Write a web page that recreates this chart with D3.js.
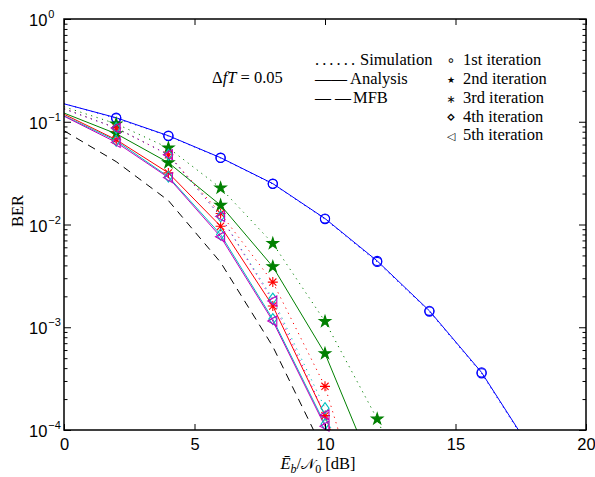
<!DOCTYPE html>
<html>
<head>
<meta charset="utf-8">
<script src="https://cdn.jsdelivr.net/npm/d3@7"></script>
<style>
body { margin: 0; background: #fff; }
</style>
</head>
<body>
<svg id="chart" width="595" height="477"></svg>
<script>

// BER values, x = Eb/N0 in dB
var snr = [0, 2, 4, 6, 8, 10, 12, 14, 16, 18];

var ana1 = [0.1495, 0.1094, 0.0731, 0.0447, 0.0250, 0.01143, 0.00442, 0.001446, 3.63e-4, 5.85e-5];
var sim1 = [0.150, 0.108, 0.0725, 0.0444, 0.0248, 0.01130, 0.00432, 0.00142, 3.56e-4, 5.7e-5];
var ana2 = [0.1215, 0.0765, 0.0400, 0.0154, 0.00389, 5.55e-4, 3.3e-5];
var sim2 = [0.140, 0.0955, 0.0556, 0.0227, 0.00654, 0.00114, 1.28e-4, 7.8e-6];
var ana3 = [0.1183, 0.0669, 0.0318, 0.00963, 0.00161, 1.38e-4, 6e-6];
var sim3 = [0.135, 0.0869, 0.0478, 0.0128, 0.00275, 2.66e-4, 5.6e-6];
var ana4 = [0.1144, 0.0654, 0.0292, 0.0080, 0.00120, 1.14e-4, 4e-6];
var sim4 = [0.134, 0.0870, 0.0478, 0.0120, 0.0019, 1.63e-4, 3e-6];
var ana5 = [0.1132, 0.0630, 0.0286, 0.0076, 0.00115, 1.09e-4, 3.8e-6];
var sim5 = [0.133, 0.0869, 0.0478, 0.0120, 0.0018, 1.40e-4, 3e-6];

var mfb = [0.0818, 0.0409, 0.0171, 0.00428, 6.5e-4, 5.9e-5];

var xTicks = [0, 5, 10, 15, 20];
var yMajor = [1e-4, 1e-3, 1e-2, 1e-1, 1];
var yExp = ['\u22124', '\u22123', '\u22122', '\u22121', '0'];

var iterNames = ['1st iteration', '2nd iteration', '3rd iteration', '4th iteration', '5th iteration'];
var iterGlyphs = ['\u2218', '\u2605', '\u2217', '\u22C4', '\u25C1'];

var width = 595, height = 477;
var plotLeft = 64, plotRight = 586, plotTop = 19, plotBottom = 430;

var x = d3.scaleLinear().domain([0, 20]).range([plotLeft, plotRight]);
var y = d3.scaleLog().domain([1e-4, 1]).range([plotBottom, plotTop]);

var svg = d3.select('#chart');
svg.append('rect').attr('width', width).attr('height', height).attr('fill', '#fff');

svg.append('defs').append('clipPath').attr('id', 'clip')
    .append('rect')
    .attr('x', plotLeft).attr('y', plotTop)
    .attr('width', plotRight - plotLeft).attr('height', plotBottom - plotTop);

var series = [
    {color: '#0000ff', marker: 'circle',   ana: ana1, sim: sim1},
    {color: '#008000', marker: 'star',     ana: ana2, sim: sim2},
    {color: '#ff0000', marker: 'asterisk', ana: ana3, sim: sim3},
    {color: '#00bfbf', marker: 'diamond',  ana: ana4, sim: sim4},
    {color: '#bf00bf', marker: 'triangle', ana: ana5, sim: sim5}
];

function markerPath(type) {
    if (type == 'circle') return d3.symbol(d3.symbolCircle, 66)();
    if (type == 'star') return d3.symbol(d3.symbolStar, 40)();
    if (type == 'asterisk') return 'M-5,0H5M0,-5V5M-3.6,-3.6L3.6,3.6M-3.6,3.6L3.6,-3.6';
    if (type == 'diamond') return 'M0,-5.5L4,0L0,5.5L-4,0Z';
    return 'M-5,0L4,-5L4,5Z';
}

var line = d3.line()
    .x(function(d, i) { return x(snr[i]); })
    .y(function(d) { return y(d); });

var plot = svg.append('g').attr('clip-path', 'url(#clip)');

// MFB bound
plot.append('path')
    .attr('d', line(mfb))
    .attr('fill', 'none')
    .attr('stroke', '#000')
    .attr('stroke-width', 1)
    .attr('stroke-dasharray', '8,6');

series.forEach(function(s) {
    plot.append('path')
        .attr('d', line(s.sim))
        .attr('fill', 'none')
        .attr('stroke', s.color)
        .attr('stroke-width', 1)
        .attr('stroke-dasharray', '1.2,4.5');

    plot.append('path')
        .attr('d', line(s.ana))
        .attr('fill', 'none')
        .attr('stroke', s.color)
        .attr('stroke-width', 1);

    [s.sim, s.ana].forEach(function(vals) {
        var pts = [];
        vals.forEach(function(v, i) {
            if (i > 0 && v >= 1e-4) pts.push([snr[i], v]);
        });
        svg.append('g').selectAll('path')
            .data(pts)
            .enter()
            .append('path')
            .attr('transform', function(d) { return 'translate(' + x(d[0]) + ',' + y(d[1]) + ')'; })
            .attr('d', markerPath(s.marker))
            .attr('fill', s.marker == 'star' ? s.color : 'none')
            .attr('stroke', s.color)
            .attr('stroke-width', 1.1);
    });
});

// axes, ticks pointing inward on all four sides
function styleAxis(g) {
    g.select('.domain').remove();
    g.selectAll('line').attr('stroke', '#000').attr('stroke-width', 1);
    g.selectAll('text').attr('font-family', 'Liberation Sans, Arial, sans-serif')
        .attr('font-size', 16.5).attr('fill', '#000');
}

svg.append('g').attr('transform', 'translate(0,' + plotBottom + ')')
    .call(d3.axisBottom(x).tickValues(xTicks).tickSizeInner(-6).tickSizeOuter(0).tickPadding(8))
    .call(styleAxis);
svg.append('g').attr('transform', 'translate(0,' + plotTop + ')')
    .call(d3.axisTop(x).tickValues(xTicks).tickSizeInner(-6).tickSizeOuter(0).tickFormat(''))
    .call(styleAxis);

var yMinor = y.ticks().filter(function(v) {
    return yMajor.every(function(m) { return Math.abs(m - v) > m * 1e-6; });
});

[[d3.axisLeft, plotLeft], [d3.axisRight, plotRight]].forEach(function(a) {
    svg.append('g').attr('transform', 'translate(' + a[1] + ',0)')
        .call(a[0](y).tickValues(yMajor).tickSizeInner(-7).tickSizeOuter(0).tickFormat(''))
        .call(styleAxis);
    svg.append('g').attr('transform', 'translate(' + a[1] + ',0)')
        .call(a[0](y).tickValues(yMinor).tickSizeInner(-3.5).tickSizeOuter(0).tickFormat(''))
        .call(styleAxis);
});

// y tick labels 10^k
yMajor.forEach(function(v, i) {
    var t = svg.append('text')
        .attr('x', 29).attr('y', y(v) + 7)
        .attr('font-family', 'Liberation Sans, Arial, sans-serif')
        .attr('font-size', 16.5);
    t.append('tspan').text('10');
    t.append('tspan').attr('font-size', 11).attr('dy', -8).attr('dx', 1).text(yExp[i]);
});

svg.append('rect')
    .attr('x', plotLeft).attr('y', plotTop)
    .attr('width', plotRight - plotLeft).attr('height', plotBottom - plotTop)
    .attr('fill', 'none')
    .attr('stroke', '#000')
    .attr('stroke-width', 1.5);

var serif = 'Liberation Serif, Times New Roman, serif';

// axis titles
svg.append('text')
    .attr('transform', 'translate(23,211) rotate(-90)')
    .attr('text-anchor', 'middle')
    .attr('font-family', serif)
    .attr('font-size', 16.5)
    .text('BER');

var xl = svg.append('text')
    .attr('x', 318).attr('y', 469)
    .attr('text-anchor', 'middle')
    .attr('font-family', serif)
    .attr('font-size', 16.5);
xl.append('tspan').attr('font-style', 'italic').text('\u0112');
xl.append('tspan').attr('font-style', 'italic').attr('font-size', 12).attr('dy', 4).text('b');
xl.append('tspan').attr('dy', -4).text('/');
xl.append('tspan').attr('font-family', 'DejaVu Sans, sans-serif').attr('font-size', 15).text('\uD835\uDCA9');
xl.append('tspan').attr('font-size', 12).attr('dy', 4).text('0');
xl.append('tspan').attr('dy', -4).text('  [dB]');

// annotation
var an = svg.append('text')
    .attr('x', 212).attr('y', 83)
    .attr('font-family', serif)
    .attr('font-size', 16.5);
an.append('tspan').text('\u0394');
an.append('tspan').attr('font-style', 'italic').text('fT');
an.append('tspan').text(' = 0.05');

// legend, written as text like the original
var legRows = [65, 84, 102.5, 121.5, 140];
var legLeft = [
    {mark: '. . . . . .', len: 40, adjust: 'spacing', label: 'Simulation', lx: 360},
    {mark: '\u2014\u2014', len: 32, adjust: 'spacingAndGlyphs', label: 'Analysis', lx: 350},
    {mark: '\u2014 \u2014', len: 36, adjust: 'spacingAndGlyphs', label: 'MFB', lx: 353}
];
legLeft.forEach(function(d, i) {
    svg.append('text')
        .attr('x', 315).attr('y', legRows[i])
        .attr('font-family', serif).attr('font-size', 16.5)
        .attr('textLength', d.len).attr('lengthAdjust', d.adjust)
        .text(d.mark);
    svg.append('text')
        .attr('x', d.lx).attr('y', legRows[i])
        .attr('font-family', serif).attr('font-size', 16.5)
        .text(d.label);
});

var glyphSize = [14, 9, 11, 15, 11];
iterNames.forEach(function(name, i) {
    svg.append('text')
        .attr('x', 451).attr('y', legRows[i] - (i == 1 ? 1 : 0))
        .attr('text-anchor', 'middle')
        .attr('font-family', 'DejaVu Sans, sans-serif').attr('font-size', glyphSize[i])
        .text(iterGlyphs[i]);
    svg.append('text')
        .attr('x', 463).attr('y', legRows[i])
        .attr('font-family', serif).attr('font-size', 16.5)
        .text(name);
});

</script>
</body>
</html>
